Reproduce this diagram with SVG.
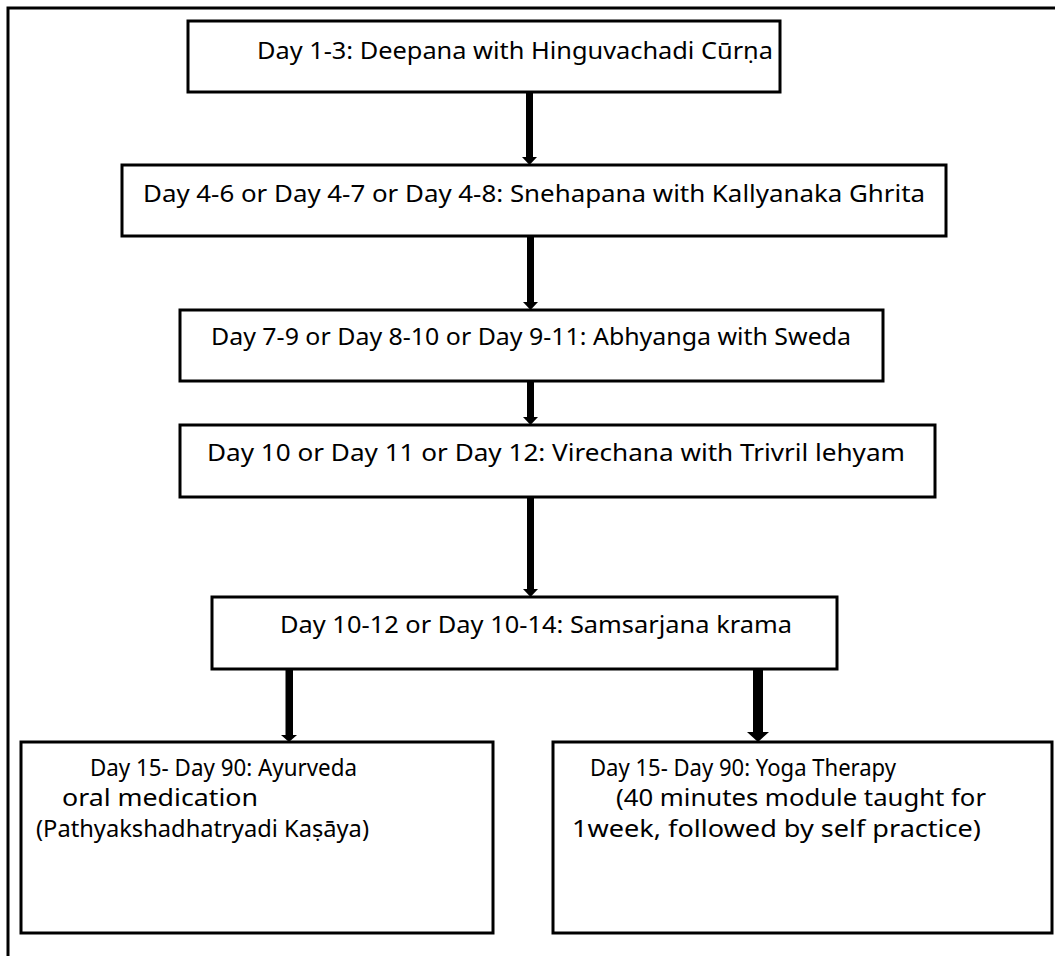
<svg xmlns="http://www.w3.org/2000/svg" width="1055" height="956" viewBox="0 0 1055 956">
<style>
.box{fill:#fff;stroke:#000;stroke-width:3}
.t{font-family:"Noto Sans","Open Sans",sans-serif;font-size:24px;fill:#000}
.s{font-family:"Noto Sans","Open Sans",sans-serif;font-size:24px;fill:#000}
.arr{fill:#000}
</style>
<rect width="1055" height="956" fill="#fff"/>
<path d="M8 956 V8 H1055" fill="none" stroke="#000" stroke-width="3"/>
<g id="connectors">
<path class="arr" d="M526 92 H533 V157 H537 L529.5 165 L522 157 H526 Z"/>
<path class="arr" d="M527 236 H534 V302 H538 L530.5 310 L523 302 H527 Z"/>
<path class="arr" d="M527 381 H534 V417 H538 L530.5 425 L523 417 H527 Z"/>
<path class="arr" d="M527 497 H534 V589 H538 L530.5 597 L523 589 H527 Z"/>
<path class="arr" d="M285.5 669 H293 V735 H297 L289 742 L281 735 H285.5 Z"/>
<path class="arr" d="M753 667 H763 V732 H769 L758 742 L747 732 H753 Z"/>
</g>
<g id="n1"><rect class="box" x="188" y="21" width="592" height="71"/>
<text class="t" x="257" y="59" textLength="516" lengthAdjust="spacingAndGlyphs">Day 1-3: Deepana with Hinguvachadi Cūrṇa</text></g>
<g id="n2"><rect class="box" x="122" y="165" width="824" height="71"/>
<text class="t" x="143" y="202" textLength="782" lengthAdjust="spacingAndGlyphs">Day 4-6 or Day 4-7 or Day 4-8: Snehapana with Kallyanaka Ghrita</text></g>
<g id="n3"><rect class="box" x="180" y="310" width="703" height="71"/>
<text class="t" x="211" y="345" textLength="640" lengthAdjust="spacingAndGlyphs">Day 7-9 or Day 8-10 or Day 9-11: Abhyanga with Sweda</text></g>
<g id="n4"><rect class="box" x="180" y="425" width="755" height="72"/>
<text class="t" x="207" y="461" textLength="698" lengthAdjust="spacingAndGlyphs">Day 10 or Day 11 or Day 12: Virechana with Trivril lehyam</text></g>
<g id="n5"><rect class="box" x="212" y="597" width="625" height="72"/>
<text class="t" x="280" y="633" textLength="512" lengthAdjust="spacingAndGlyphs">Day 10-12 or Day 10-14: Samsarjana krama</text></g>
<g id="n6"><rect class="box" x="21" y="742" width="472" height="191"/>
<text class="s" x="90" y="776" textLength="267" lengthAdjust="spacingAndGlyphs">Day 15- Day 90: Ayurveda</text>
<text class="s" x="62" y="806" textLength="196" lengthAdjust="spacingAndGlyphs">oral medication</text>
<text class="s" x="36" y="837" textLength="333" lengthAdjust="spacingAndGlyphs">(Pathyakshadhatryadi Kaṣāya)</text></g>
<g id="n7"><rect class="box" x="553" y="742" width="499" height="191"/>
<text class="s" x="590" y="776" textLength="306" lengthAdjust="spacingAndGlyphs">Day 15- Day 90: Yoga Therapy</text>
<text class="s" x="616" y="806" textLength="370" lengthAdjust="spacingAndGlyphs">(40 minutes module taught for</text>
<text class="s" x="572" y="837" textLength="409" lengthAdjust="spacingAndGlyphs">1week, followed by self practice)</text></g>
</svg>
